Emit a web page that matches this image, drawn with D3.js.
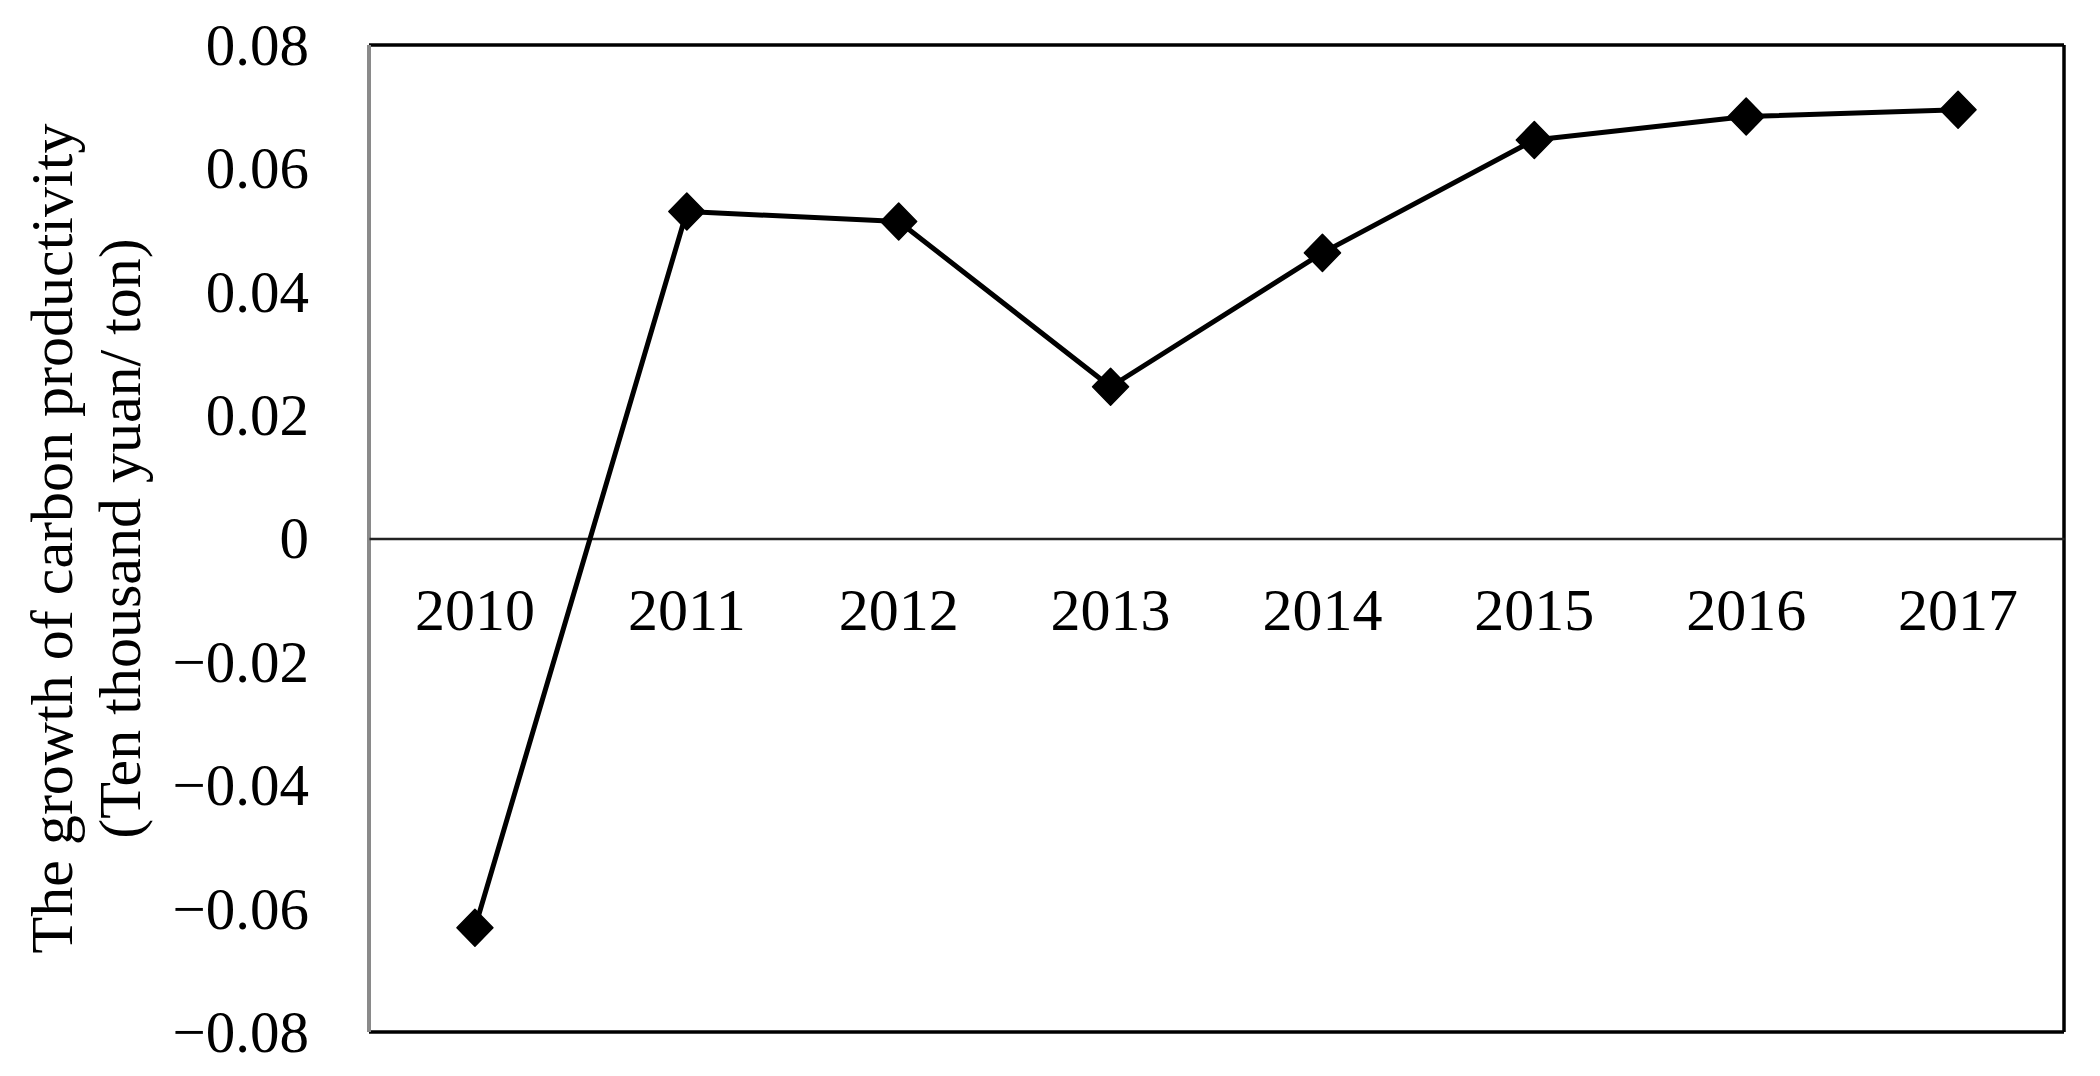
<!DOCTYPE html>
<html>
<head>
<meta charset="utf-8">
<script src="https://cdn.jsdelivr.net/npm/d3@7"></script>
<style>
  html, body { margin: 0; padding: 0; background: #fff; }
  svg { display: block; }
  text { font-family: "Liberation Serif", "Times New Roman", serif; fill: #000; }
</style>
</head>
<body>
<svg id="chart" width="2100" height="1076"></svg>
<script>
const years = ["2010", "2011", "2012", "2013", "2014", "2015", "2016", "2017"];
const growth = [-0.0631, 0.0530, 0.0514, 0.0246, 0.0463, 0.0646, 0.0684, 0.0695];
const yTicks = [-0.08, -0.06, -0.04, -0.02, 0, 0.02, 0.04, 0.06, 0.08];
const yTickLabels = ["\u22120.08", "\u22120.06", "\u22120.04", "\u22120.02", "0", "0.02", "0.04", "0.06", "0.08"];
const yTitleLines = ["The growth of carbon productivity", "(Ten thousand yuan/ ton)"];

const W = 2100, H = 1076;
const margin = { left: 369, right: 36, top: 45, bottom: 44 };
const svg = d3.select("#chart");
const x = d3.scaleBand().domain(years).range([margin.left, W - margin.right]);
const y = d3.scaleLinear().domain([-0.08, 0.08]).range([H - margin.bottom, margin.top]);
const FS = 60;

// y axis labels
const yAxis = d3.axisLeft(y).tickValues(yTicks)
  .tickFormat((d, i) => yTickLabels[i]).tickSize(0).tickPadding(60);
const gy = svg.append("g").attr("transform", `translate(${margin.left},0)`).call(yAxis);
gy.select(".domain").remove();
gy.selectAll("text").style("font-family", '"Liberation Serif", serif').style("font-size", "59px").attr("dy", "0.33em");

// plot frame
svg.append("line").attr("x1", margin.left).attr("x2", W - margin.right)
  .attr("y1", margin.top).attr("y2", margin.top).attr("stroke", "#000").attr("stroke-width", 3.5);
svg.append("line").attr("x1", margin.left).attr("x2", W - margin.right)
  .attr("y1", H - margin.bottom).attr("y2", H - margin.bottom).attr("stroke", "#000").attr("stroke-width", 3.5);
svg.append("line").attr("x1", W - margin.right).attr("x2", W - margin.right)
  .attr("y1", margin.top).attr("y2", H - margin.bottom).attr("stroke", "#000").attr("stroke-width", 3.5);
svg.append("line").attr("x1", margin.left).attr("x2", margin.left)
  .attr("y1", margin.top).attr("y2", H - margin.bottom).attr("stroke", "#8a8a8a").attr("stroke-width", 4);

// zero line with category labels below
const xAxis = d3.axisBottom(x).tickSize(0).tickPadding(49);
const gx = svg.append("g").attr("transform", `translate(0,${y(0)})`).call(xAxis);
gx.select(".domain").attr("stroke", "#222").attr("stroke-width", 2.5);
gx.selectAll("text").style("font-family", '"Liberation Serif", serif').style("font-size", FS + "px");

// line
const line = d3.line().x((d, i) => x(years[i]) + x.bandwidth() / 2).y(d => y(d));
svg.append("path").datum(growth).attr("d", line)
  .attr("fill", "none").attr("stroke", "#000").attr("stroke-width", 5).attr("stroke-linejoin", "round");

// diamond markers
const hw = 18, hh = 18.5;
svg.selectAll(".mk").data(growth).enter().append("path").attr("class", "mk")
  .attr("d", (d, i) => {
    const cx = x(years[i]) + x.bandwidth() / 2, cy = y(d);
    return `M${cx},${cy - hh}L${cx + hw},${cy}L${cx},${cy + hh}L${cx - hw},${cy}Z`;
  })
  .attr("fill", "#000").attr("stroke", "#000").attr("stroke-width", 1.5).attr("stroke-linejoin", "round");

// y title
const midY = (margin.top + H - margin.bottom) / 2;
svg.append("text").attr("transform", `translate(72,${midY}) rotate(-90)`)
  .attr("text-anchor", "middle").style("font-size", FS + "px").text(yTitleLines[0]);
svg.append("text").attr("transform", `translate(140,${midY}) rotate(-90)`)
  .attr("text-anchor", "middle").style("font-size", FS + "px").text(yTitleLines[1]);
</script>
</body>
</html>
